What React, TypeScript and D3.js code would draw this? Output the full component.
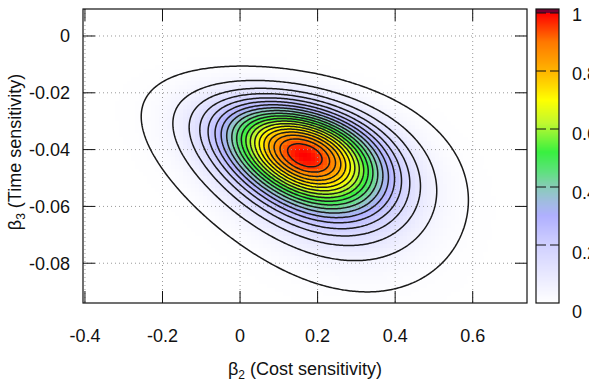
import React from "react";
import * as d3 from "d3";

// ---------- data ----------
const X_DOMAIN: [number, number] = [-0.405, 0.74];
const Y_DOMAIN: [number, number] = [-0.094, 0.0095];
const X_TICKS = [-0.4, -0.2, 0, 0.2, 0.4, 0.6];
const X_TICK_LABELS = ["-0.4", "-0.2", "0", "0.2", "0.4", "0.6"];
const Y_TICKS = [0, -0.02, -0.04, -0.06, -0.08];
const Y_TICK_LABELS = ["0", "-0.02", "-0.04", "-0.06", "-0.08"];
const CB_TICKS = [0, 0.2, 0.4, 0.6, 0.8, 1];
const CB_TICK_LABELS = ["0", "0.2", "0.4", "0.6", "0.8", "1"];
const CONTOUR_LEVELS = [
  0.01, 0.05, 0.1, 0.15, 0.2, 0.25, 0.3, 0.35, 0.4, 0.45, 0.5, 0.55, 0.6, 0.65,
  0.7, 0.75, 0.8, 0.85, 0.9, 0.95,
];
const PALETTE_VALUES = [0, 0.1, 0.2, 0.3, 0.35, 0.4, 0.45, 0.52, 0.62, 0.7, 0.75, 0.8, 0.9, 0.95, 1.0];
const PALETTE_COLORS = [
  "#ffffff", "#e8e8ff", "#d0d0ff", "#b0b0ff", "#a0bce0", "#88ccb8", "#60e080",
  "#38f040", "#c0f830", "#ffff00", "#ffd800", "#ffb400", "#ff7800", "#ff3c00", "#ff0000",
];
// posterior density parameters (β2 cost, β3 time)
const MEAN_COST = 0.167;
const MEAN_TIME = -0.0419;
const SD_COST = 0.139;
const TIME_SHIFT = 0.0474;
const SD_LOGTIME = 0.1422;
const CORR = 0.38;

// ---------- layout ----------
const W = 589, H = 382;
const PL = 83, PR = 527, PT = 9, PB = 303;
const CBL = 536, CBR = 559, CBT = 9, CB1 = 13;
const FONT = "'Liberation Sans', Arial, Helvetica, sans-serif";

function density(x: number, y: number): number {
  const a = (x - MEAN_COST) / SD_COST;
  const ys = TIME_SHIFT - y;
  if (ys <= 0) return 0;
  const t = (Math.log(ys) - Math.log(TIME_SHIFT - MEAN_TIME)) / SD_LOGTIME;
  const q = (a * a - 2 * CORR * a * t + t * t) / (1 - CORR * CORR);
  return Math.exp(-q / 2);
}

export default function App() {
  const xScale = d3.scaleLinear().domain(X_DOMAIN).range([PL, PR]);
  const yScale = d3.scaleLinear().domain(Y_DOMAIN).range([PB, PT]);
  const cbScale = d3.scaleLinear().domain([0, 1]).range([PB, CB1]);
  const palette = d3
    .scaleLinear<string>()
    .domain(PALETTE_VALUES)
    .range(PALETTE_COLORS)
    .interpolate(d3.interpolateRgb)
    .clamp(true);

  // heatmap cells
  const nx = 111, ny = 74;
  const dx = (X_DOMAIN[1] - X_DOMAIN[0]) / nx;
  const dy = (Y_DOMAIN[1] - Y_DOMAIN[0]) / ny;
  const cells: { x: number; y: number; c: string }[] = [];
  for (let j = 0; j < ny; j++) {
    for (let i = 0; i < nx; i++) {
      const cx = X_DOMAIN[0] + (i + 0.5) * dx;
      const cy = Y_DOMAIN[0] + (j + 0.5) * dy;
      const v = density(cx, cy);
      if (v < 0.002) continue;
      cells.push({ x: X_DOMAIN[0] + i * dx, y: Y_DOMAIN[0] + (j + 1) * dy, c: palette(v) });
    }
  }
  const cw = xScale(X_DOMAIN[0] + dx) - xScale(X_DOMAIN[0]);
  const ch = yScale(Y_DOMAIN[0]) - yScale(Y_DOMAIN[0] + dy);

  // contours
  const gx = 300, gy = 200;
  const dxg = (X_DOMAIN[1] - X_DOMAIN[0]) / (gx - 1);
  const dyg = (Y_DOMAIN[1] - Y_DOMAIN[0]) / (gy - 1);
  const values = new Float64Array(gx * gy);
  for (let j = 0; j < gy; j++)
    for (let i = 0; i < gx; i++)
      values[i + j * gx] = density(X_DOMAIN[0] + i * dxg, Y_DOMAIN[1] - j * dyg);
  const contours = d3.contours().size([gx, gy]).thresholds(CONTOUR_LEVELS)(Array.from(values));
  const proj = d3.geoTransform({
    point(x: number, y: number) {
      (this as any).stream.point(
        xScale(X_DOMAIN[0] + (x - 0.5) * dxg),
        yScale(Y_DOMAIN[1] - (y - 0.5) * dyg)
      );
    },
  });
  const path = d3.geoPath(proj as any);

  // colorbar rows
  const cbRows: { y: number; c: string }[] = [];
  for (let y = CBT; y < PB; y++) {
    const v = cbScale.invert(y + 0.5);
    cbRows.push({ y, c: v > 1 ? "#7a0030" : palette(v) });
  }
  const cbLabelScale = d3.scaleLinear().domain([0, 1]).range([318, 21]);

  return (
    <svg
      width={W}
      height={H}
      style={{ position: "absolute", left: 0, top: 0, background: "#fff" }}
      fontFamily={FONT}
    >
      <defs>
        <clipPath id="plotclip">
          <rect x={PL} y={PT} width={PR - PL} height={PB - PT} />
        </clipPath>
      </defs>
      <rect x={0} y={0} width={W} height={H} fill="#fff" />
      <g clipPath="url(#plotclip)" shapeRendering="crispEdges">
        {cells.map((d, k) => (
          <rect key={k} x={xScale(d.x)} y={yScale(d.y)} width={cw + 0.6} height={ch + 0.6} fill={d.c} />
        ))}
      </g>
      {/* grid */}
      <g stroke="#999" strokeWidth={1} strokeDasharray="1,3">
        {X_TICKS.map((t) => (
          <line key={"gx" + t} x1={xScale(t)} x2={xScale(t)} y1={PT} y2={PB} />
        ))}
        {Y_TICKS.map((t) => (
          <line key={"gy" + t} x1={PL} x2={PR} y1={yScale(t)} y2={yScale(t)} />
        ))}
      </g>
      {/* contours */}
      <g clipPath="url(#plotclip)" fill="none" stroke="#1a1a1a" strokeWidth={1.5} strokeLinejoin="round">
        {contours.map((c, k) => (
          <path key={k} d={path(c as any) || ""} />
        ))}
      </g>
      {/* ticks */}
      <g stroke="#111" strokeWidth={1}>
        {X_TICKS.map((t) => (
          <g key={"tx" + t}>
            <line x1={xScale(t)} x2={xScale(t)} y1={PB} y2={PB - 12} />
            <line x1={xScale(t)} x2={xScale(t)} y1={PT} y2={PT + 12} />
          </g>
        ))}
        {Y_TICKS.map((t) => (
          <g key={"ty" + t}>
            <line x1={PL} x2={PL + 12} y1={yScale(t)} y2={yScale(t)} />
            <line x1={PR} x2={PR - 12} y1={yScale(t)} y2={yScale(t)} />
          </g>
        ))}
      </g>
      <rect x={PL} y={PT} width={PR - PL} height={PB - PT} fill="none" stroke="#111" strokeWidth={1.2} />
      {/* tick labels */}
      <g fontSize={18} fill="#111">
        {X_TICKS.map((t, k) => (
          <text key={"lx" + t} x={xScale(t)} y={342} textAnchor="middle">
            {X_TICK_LABELS[k]}
          </text>
        ))}
        {Y_TICKS.map((t, k) => (
          <text key={"ly" + t} x={70} y={yScale(t) + 6.5} textAnchor="end">
            {Y_TICK_LABELS[k]}
          </text>
        ))}
      </g>
      {/* axis titles */}
      <text x={(PL + PR) / 2} y={375} textAnchor="middle" fontSize={18} fill="#111">
        β<tspan fontSize={12} dy={4}>2</tspan>
        <tspan dy={-4}> (Cost sensitivity)</tspan>
      </text>
      <text transform={`translate(20.5,152) rotate(-90)`} textAnchor="middle" fontSize={18} fill="#111">
        β<tspan fontSize={12} dy={4}>3</tspan>
        <tspan dy={-4}> (Time sensitivity)</tspan>
      </text>
      {/* colorbar */}
      <g shapeRendering="crispEdges">
        {cbRows.map((r) => (
          <rect key={r.y} x={CBL} y={r.y} width={CBR - CBL} height={1.2} fill={r.c} />
        ))}
      </g>
      <g stroke="#111" strokeWidth={1}>
        {CB_TICKS.filter((t) => t > 0).map((t) => (
          <g key={"cbt" + t}>
            <line x1={CBL} x2={CBL + 10} y1={cbScale(t)} y2={cbScale(t)} />
            <line x1={CBR} x2={CBR - 9} y1={cbScale(t)} y2={cbScale(t)} />
          </g>
        ))}
      </g>
      <rect x={CBL} y={CBT} width={CBR - CBL} height={PB - CBT} fill="none" stroke="#111" strokeWidth={1.2} />
      <g fontSize={18} fill="#111">
        {CB_TICKS.map((t, k) => (
          <text key={"cbl" + t} x={572} y={cbLabelScale(t)}>
            {CB_TICK_LABELS[k]}
          </text>
        ))}
      </g>
    </svg>
  );
}
